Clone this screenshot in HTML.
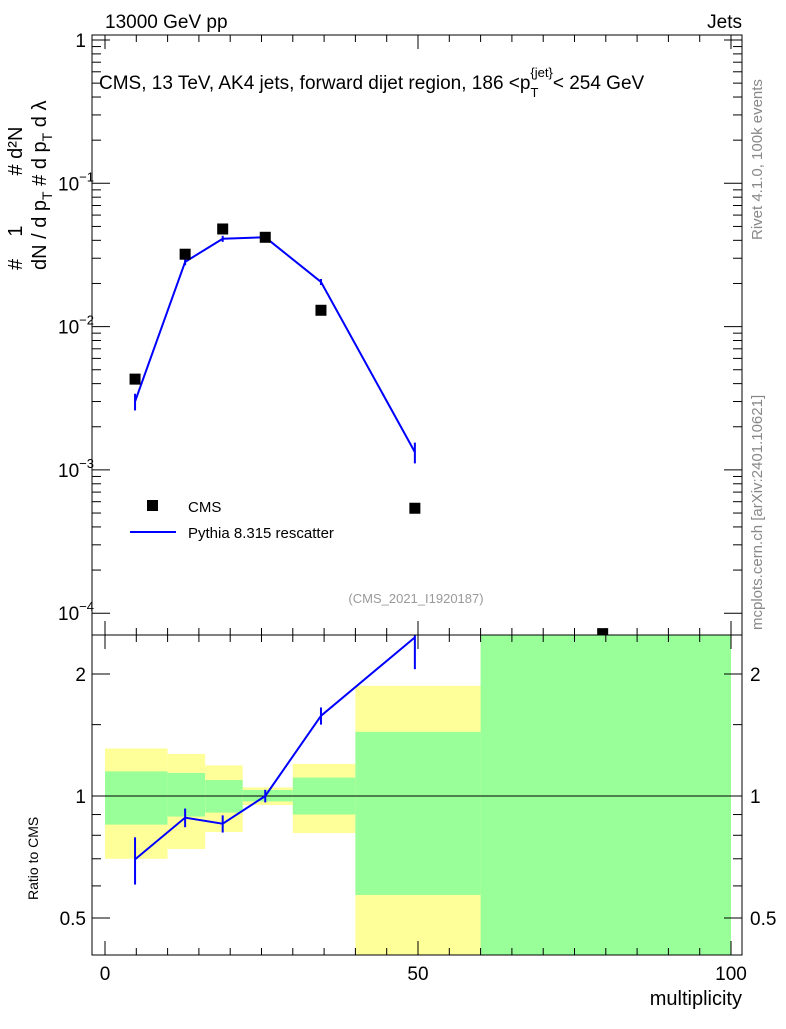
<!DOCTYPE html>
<html><head><meta charset="utf-8"><style>
body{margin:0;background:#fff;}
svg{font-family:"Liberation Sans",sans-serif;}
</style></head><body>
<svg width="786" height="1024" viewBox="0 0 786 1024">
<defs><clipPath id="cm"><rect x="92" y="35" width="650" height="600"/></clipPath>
<clipPath id="cr"><rect x="92" y="635" width="650" height="320"/></clipPath></defs>
<g id="ratio-bands" clip-path="url(#cr)"></g>
<line x1="92" x2="742" y1="796" y2="796" stroke="#000" stroke-width="1"/>
<g id="ratio-series" clip-path="url(#cr)"></g>
<g id="main-series" clip-path="url(#cm)"></g>
<rect x="92" y="35" width="650" height="600" fill="none" stroke="#000"/>
<rect x="92" y="635" width="650" height="320" fill="none" stroke="#000"/>
<g id="axes"></g>
<text x="105" y="28" font-size="19">13000 GeV pp</text>
<text x="742" y="28" font-size="19" text-anchor="end">Jets</text>
<text x="99" y="89" font-size="19">CMS, 13 TeV, AK4 jets, forward dijet region, 186 &lt;p<tspan font-size="13" dy="8">T</tspan><tspan font-size="13" dy="-20" dx="-8">{jet}</tspan><tspan dy="12">&lt; 254 GeV</tspan></text>
<text x="416" y="603" font-size="13" fill="#999" text-anchor="middle">(CMS_2021_I1920187)</text>
<text transform="translate(762,240) rotate(-90)" font-size="15" fill="#888">Rivet 4.1.0,  100k events</text>
<text transform="translate(762,630) rotate(-90)" font-size="15" fill="#888">mcplots.cern.ch [arXiv:2401.10621]</text>
<text transform="translate(46,270) rotate(-90)" font-size="20">dN / d p<tspan font-size="14" dy="6">T</tspan><tspan dy="-6"> #  d p</tspan><tspan font-size="14" dy="6">T</tspan><tspan dy="-6"> d λ</tspan></text>
<text transform="translate(22,270) rotate(-90)" font-size="20"># &#160;&#160;&#160;1&#160;&#160;&#160;&#160;&#160;&#160;&#160;&#160; # d²N</text>
<text transform="translate(38,900) rotate(-90)" font-size="14">Ratio to CMS</text>
<text x="742" y="1005" font-size="20" text-anchor="end">multiplicity</text>
<g>
<rect x="147" y="500" width="11" height="11" fill="#000"/>
<text x="188" y="512" font-size="15">CMS</text>
<line x1="130" x2="176" y1="532" y2="532" stroke="#00f" stroke-width="2"/>
<text x="188" y="538" font-size="15">Pythia 8.315 rescatter</text>
</g>
</svg>
<script>
const xCenters=[4.8,12.8,18.8,25.6,34.5,49.5,79.5];
const cmsVals=[0.0043,0.032,0.048,0.042,0.013,0.00054,0.000072];
const pyX=[4.8,12.8,18.8,25.6,34.5,49.5];
const pyVals=[0.0030,0.0283,0.041,0.042,0.0205,0.00133];
const pyErr=[0.0004,0.0015,0.002,0.0015,0.001,0.00022];
const binEdges=[0,10,16,22,30,40,60,100];
const yelHi=[1.31,1.27,1.19,1.05,1.2,1.87,3];
const yelLo=[0.70,0.74,0.815,0.95,0.81,0.3,0.3];
const grnHi=[1.15,1.14,1.095,1.035,1.11,1.44,3];
const grnLo=[0.85,0.89,0.91,0.97,0.90,0.57,0.3];
const xTicks=[0,50,100];
const yDecades=[1,0.1,0.01,0.001,0.0001];
const yDecLabels=["1","10","10","10","10"];
const yDecExp=["","−1","−2","−3","−4"];
const rTicks=[0.5,1,2];
const NS="http://www.w3.org/2000/svg";
const X=v=>105+v*6.26;
const Y=v=>40-Math.log10(v)*143.3;
const R=v=>796-Math.log2(v)*122;
function mk(t,a,p){const e=document.createElementNS(NS,t);for(const k in a)e.setAttribute(k,a[k]);p.appendChild(e);return e;}
const bands=document.getElementById('ratio-bands');
for(let i=0;i<binEdges.length-1;i++){
 const x0=X(binEdges[i]),x1=X(binEdges[i+1]);
 const y=mk('rect',{x:x0,width:x1-x0,y:R(yelHi[i]),height:R(yelLo[i])-R(yelHi[i]),fill:'#ffff99'},bands);
 
 
 const g=mk('rect',{x:x0,width:x1-x0,y:R(grnHi[i]),height:R(grnLo[i])-R(grnHi[i]),fill:'#99ff99'},bands);
 
 
}
const ms=document.getElementById('main-series');
const pl=mk('polyline',{points:pyX.map((x,i)=>X(x)+','+Y(pyVals[i])).join(' '),fill:'none',stroke:'#00f','stroke-width':2},ms);


pyX.forEach((x,i)=>{
 const e=mk('line',{x1:X(x),x2:X(x),y1:Y(pyVals[i]+pyErr[i]),y2:Y(pyVals[i]-pyErr[i]),stroke:'#00f','stroke-width':2},ms);
 
 
});
xCenters.forEach((x,i)=>{
 const r=mk('rect',{x:X(x)-5.5,y:Y(cmsVals[i])-5.5,width:11,height:11,fill:'#000'},ms);
 
 
});
const rs=document.getElementById('ratio-series');
const ratios=pyVals.map((v,i)=>v/cmsVals[i]);
const rl=mk('polyline',{points:pyX.map((x,i)=>X(x)+','+R(ratios[i])).join(' '),fill:'none',stroke:'#00f','stroke-width':2},rs);


pyX.forEach((x,i)=>{
 const e=mk('line',{x1:X(x),x2:X(x),y1:R((pyVals[i]+pyErr[i])/cmsVals[i]),y2:R((pyVals[i]-pyErr[i])/cmsVals[i]),stroke:'#00f','stroke-width':2},rs);
 
 
});
const ax=document.getElementById('axes');
for(let v=0;v<=100;v+=5){
 const big=v%50===0;
 [[955,-1],[635,1],[35,1],[635,-1]].forEach(([y0,d])=>{
  mk('line',{x1:X(v),x2:X(v),y1:y0,y2:y0+(d>0? (big?14:7):-(big?14:7)),stroke:'#000'},ax);
 });
}
xTicks.forEach(v=>{const t=mk('text',{x:X(v),y:980,'font-size':19,'text-anchor':'middle'},ax);t.textContent=v;
 
 });
yDecades.forEach((v,i)=>{
 const y=Y(v);
 mk('line',{x1:92,x2:110,y1:y,y2:y,stroke:'#000'},ax);
 mk('line',{x1:742,x2:724,y1:y,y2:y,stroke:'#000'},ax);
 if(i<4)for(let k=2;k<10;k++){const yy=Y(v*k/10);mk('line',{x1:92,x2:101,y1:yy,y2:yy,stroke:'#000'},ax);mk('line',{x1:742,x2:733,y1:yy,y2:yy,stroke:'#000'},ax);}
 const t=mk('text',{x:yDecExp[i]?58:86,y:y+7,'font-size':19,'text-anchor':yDecExp[i]?'start':'end'},ax);
 
 
 t.textContent=yDecLabels[i];
 if(yDecExp[i]){const s=mk('tspan',{'font-size':13,dy:-9},t);s.textContent=yDecExp[i];}
});
[0.5,0.6,0.7,0.8,0.9,1,1.5,2].forEach(v=>{const big=rTicks.includes(v);const y=R(v);
 mk('line',{x1:92,x2:big?110:101,y1:y,y2:y,stroke:'#000'},ax);mk('line',{x1:742,x2:big?724:733,y1:y,y2:y,stroke:'#000'},ax);});
rTicks.forEach(v=>{[[86,'end'],[750,'start']].forEach(([x,a])=>{
 const t=mk('text',{x:x,y:R(v)+7,'font-size':19,'text-anchor':a},ax);t.textContent=v;
 
 });});
</script>
</body></html>
